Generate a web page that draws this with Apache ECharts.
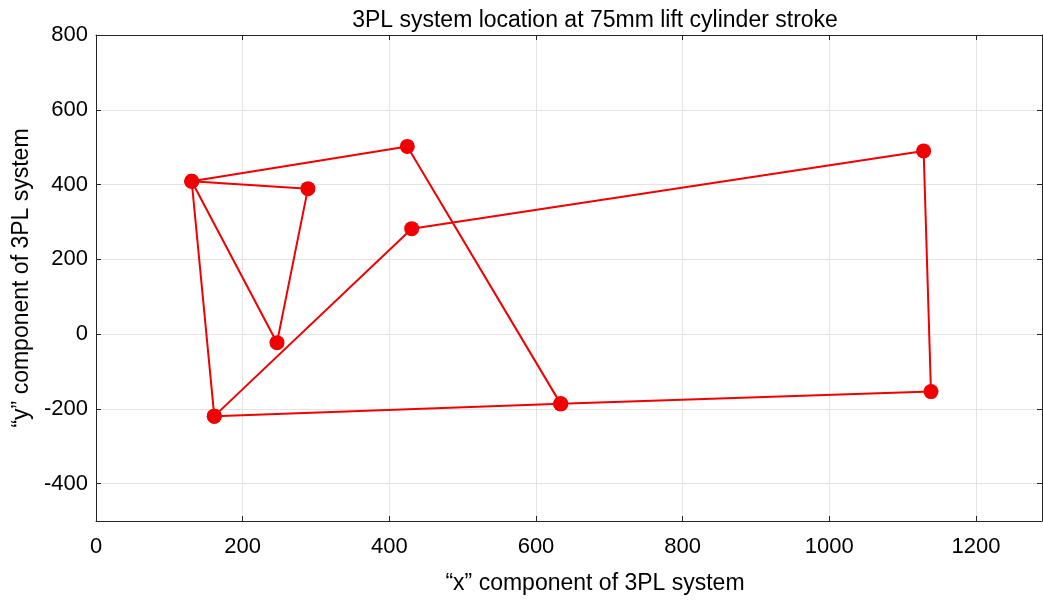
<!DOCTYPE html>
<html>
<head>
<meta charset="utf-8">
<script src="https://cdn.jsdelivr.net/npm/echarts@6/dist/echarts.min.js"></script>
<style>html,body{margin:0;padding:0;background:#fff}#c{width:1043px;height:600px}</style>
</head>
<body>
<div id="c"></div>
<script>
// Path order through the 3PL system joints
var xValues = [633.7, 424.5, 130.5, 289, 246.8, 130.5, 161.3, 430.5, 1128.6, 1138.6, 633.7, 161.3];
var yValues = [-186.7, 502, 408.8, 389, -23, 408.8, -219.5, 282, 490, -153.8, -186.7, -219.5];
var titleText = '3PL system location at 75mm lift cylinder stroke';
var xName = '\u201cx\u201d component of 3PL system';
var yName = '\u201cy\u201d component of 3PL system';

var pts = xValues.map(function (x, i) { return [x, yValues[i]]; });
var font = 'Liberation Sans, Arial, sans-serif';
var axisColor = '#262626';
var gridColor = '#e3e3e3';
var fmt = function (v) { return String(v); };

var chart = echarts.init(document.getElementById('c'));
function baseAxis(extra) {
  var a = {
    type: 'value',
    axisLine: { show: true, onZero: false, lineStyle: { color: axisColor, width: 1 } },
    axisTick: { show: true, inside: true, length: 5, lineStyle: { color: axisColor } },
    splitLine: { show: true, lineStyle: { color: gridColor, width: 1 } },
    axisLabel: { show: true, color: '#000', fontSize: 22, fontFamily: font, formatter: fmt }
  };
  for (var k in extra) a[k] = extra[k];
  return a;
}
chart.setOption({
  animation: false,
  backgroundColor: '#fff',
  title: {
    text: titleText, left: 590, top: 4, textAlign: 'center',
    textStyle: { fontSize: 23, fontWeight: 'normal', color: '#000', fontFamily: font }
  },
  grid: { left: 96, right: 1, top: 35, bottom: 78, containLabel: false },
  xAxis: [
    baseAxis({ min: 0, max: 1290, splitNumber: 6, position: 'bottom',
      name: xName, nameLocation: 'middle', nameGap: 51,
      nameTextStyle: { fontSize: 23, color: '#000', fontFamily: font, padding: [0, 0, 0, 52] },
      axisLabel: { show: true, color: '#000', fontSize: 22, fontFamily: font, margin: 15, showMaxLabel: false, formatter: fmt } }),
    baseAxis({ min: 0, max: 1290, splitNumber: 6, position: 'top',
      splitLine: { show: false }, axisLabel: { show: false } })
  ],
  yAxis: [
    baseAxis({ min: -500, max: 800, splitNumber: 6, position: 'left',
      name: yName, nameLocation: 'middle', nameGap: 49,
      nameTextStyle: { fontSize: 23, color: '#000', fontFamily: font },
      axisLabel: { show: true, color: '#000', fontSize: 22, fontFamily: font, margin: 8, showMinLabel: false, formatter: fmt } }),
    baseAxis({ min: -500, max: 800, splitNumber: 6, position: 'right',
      splitLine: { show: false }, axisLabel: { show: false } })
  ],
  series: [{
    type: 'line',
    data: pts,
    xAxisIndex: 0, yAxisIndex: 0,
    symbol: 'circle',
    symbolSize: 15,
    lineStyle: { color: '#f00000', width: 2 },
    itemStyle: { color: '#f00000' },
    clip: false
  }]
});
</script>
</body>
</html>
